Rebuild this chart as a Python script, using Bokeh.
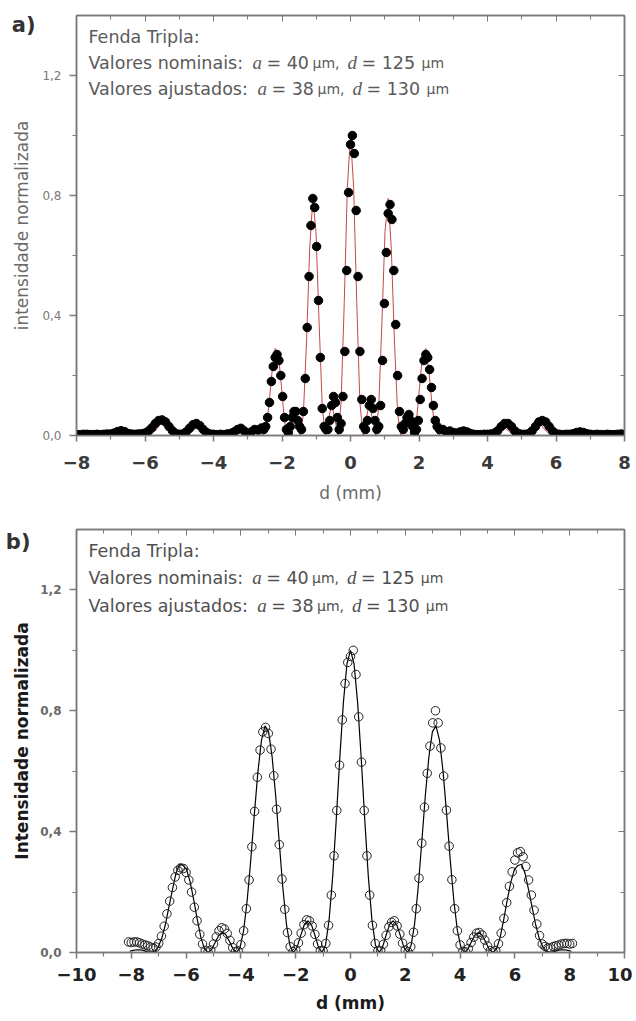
from bokeh.plotting import figure
from bokeh.models import LinearAxis, FixedTicker, CustomJSTickFormatter, Label, Range1d
from bokeh.layouts import column
from bokeh.embed import file_html
from bokeh.resources import INLINE

# ---------------- Panel a data ----------------
FIT_A_X = [-8.0, -7.883, -7.7, -7.517, -7.333, -7.15, -6.967, -6.783, -6.6, -6.417, -6.233, -6.05, -5.867,
           -5.683, -5.5, -5.317, -5.133, -4.95, -4.767, -4.583, -4.4, -4.217, -4.033, -3.85, -3.667, -3.483,
           -3.3, -3.208, -3.117, -3.025, -2.933, -2.842, -2.75, -2.658, -2.567, -2.475, -2.383, -2.292, -2.2,
           -2.108, -2.017, -1.925, -1.833, -1.742, -1.65, -1.558, -1.467, -1.375, -1.283, -1.192, -1.1, -1.008,
           -0.917, -0.825, -0.733, -0.642, -0.55, -0.458, -0.367, -0.275, -0.183, -0.092, 0.0,
           0.092, 0.183, 0.275, 0.367, 0.458, 0.55, 0.642, 0.733, 0.825, 0.917, 1.008, 1.1, 1.192, 1.283,
           1.375, 1.467, 1.558, 1.65, 1.742, 1.833, 1.925, 2.017, 2.108, 2.2, 2.292, 2.383, 2.475, 2.567,
           2.658, 2.75, 2.842, 2.933, 3.025, 3.117, 3.208, 3.3,
           3.483, 3.667, 3.85, 4.033, 4.217, 4.4, 4.583, 4.767, 4.95, 5.133, 5.317, 5.5, 5.683, 5.867, 6.05,
           6.233, 6.417, 6.6, 6.783, 6.967, 7.15, 7.333, 7.517, 7.7, 7.883, 8.0]
FIT_A_Y = [0.0, 0.001, 0.003, 0.001, 0.0, 0.0, 0.0, 0.004, 0.012, 0.006, 0.0, 0.003, 0.0,
           0.018, 0.045, 0.021, 0.0, 0.005, 0.0, 0.018, 0.035, 0.011, 0.0, 0.001, 0.0, 0.004,
           0.018, 0.018, 0.013, 0.005, 0.0, 0.005, 0.011, 0.008, 0.0, 0.021, 0.098, 0.211, 0.29,
           0.274, 0.164, 0.046, 0.0, 0.029, 0.06, 0.035, 0.0, 0.074, 0.315, 0.622, 0.79, 0.68,
           0.377, 0.097, 0.0, 0.055, 0.104, 0.057, 0.0, 0.109, 0.44, 0.827, 1.0,
           0.827, 0.44, 0.109, 0.0, 0.057, 0.104, 0.055, 0.0, 0.097, 0.377, 0.68, 0.79, 0.622, 0.315,
           0.074, 0.0, 0.035, 0.06, 0.029, 0.0, 0.046, 0.164, 0.274, 0.29, 0.211, 0.098, 0.021, 0.0,
           0.008, 0.011, 0.005, 0.0, 0.005, 0.013, 0.018, 0.018,
           0.004, 0.0, 0.001, 0.0, 0.011, 0.035, 0.018, 0.0, 0.005, 0.0, 0.021, 0.045, 0.018, 0.0, 0.003,
           0.0, 0.006, 0.012, 0.004, 0.0, 0.0, 0.0, 0.001, 0.003, 0.001, 0.0]

DATA_A_X = [-8.0, -7.9, -7.8, -7.7, -7.6, -7.5, -7.4, -7.3, -7.2, -7.1, -7.0, -6.9, -6.8, -6.7, -6.6,
            -6.5, -6.4, -6.3, -6.2, -6.1, -6.0, -5.9, -5.8, -5.7, -5.6, -5.5, -5.4, -5.3, -5.2, -5.1,
            -5.0, -4.9, -4.8, -4.7, -4.6, -4.5, -4.4, -4.3, -4.2, -4.1, -4.0, -3.9, -3.8, -3.7, -3.6,
            -3.5, -3.4, -3.3, -3.2, -3.1, -3.0, -2.9, -2.8, -2.7, -2.6,
            -2.53, -2.475, -2.42, -2.365, -2.31, -2.255, -2.2, -2.145, -2.09, -2.035, -1.98, -1.925,
            -1.87, -1.815, -1.76, -1.705, -1.65, -1.595, -1.54, -1.485, -1.43, -1.375, -1.32, -1.265,
            -1.21, -1.155, -1.1, -1.045, -0.99, -0.935, -0.88, -0.825, -0.77, -0.715, -0.66, -0.605,
            -0.55, -0.495, -0.44, -0.385, -0.33, -0.275, -0.22, -0.165, -0.11, -0.055, 0.0,
            0.055, 0.11, 0.165, 0.22, 0.275, 0.33, 0.385, 0.44, 0.495, 0.55, 0.605, 0.66, 0.715, 0.77,
            0.825, 0.88, 0.935, 0.99, 1.045, 1.1, 1.155, 1.21, 1.265, 1.32, 1.375, 1.43, 1.485, 1.54,
            1.595, 1.65, 1.705, 1.76, 1.815, 1.87, 1.925, 1.98, 2.035, 2.09, 2.145, 2.2, 2.255, 2.31,
            2.365, 2.42, 2.475, 2.53,
            2.6, 2.7, 2.8, 2.9, 3.0, 3.1, 3.2, 3.3, 3.4, 3.5, 3.6, 3.7, 3.8, 3.9, 4.0, 4.1, 4.2, 4.3,
            4.4, 4.5, 4.6, 4.7, 4.8, 4.9, 5.0, 5.1, 5.2, 5.3, 5.4, 5.5, 5.6, 5.7, 5.8, 5.9, 6.0, 6.1,
            6.2, 6.3, 6.4, 6.5, 6.6, 6.7, 6.8, 6.9, 7.0, 7.1, 7.2, 7.3, 7.4, 7.5, 7.6, 7.7, 7.8, 7.9, 8.0]
DATA_A_Y = [0.003, 0.003, 0.004, 0.004, 0.003, 0.003, 0.004, 0.003, 0.004, 0.005, 0.005, 0.008, 0.013,
            0.016, 0.013, 0.007, 0.005, 0.004, 0.005, 0.006, 0.008, 0.015, 0.026, 0.04, 0.05, 0.052,
            0.045, 0.03, 0.016, 0.007, 0.004, 0.005, 0.012, 0.024, 0.036, 0.04, 0.033, 0.02, 0.01,
            0.005, 0.004, 0.003, 0.004, 0.003, 0.005, 0.007, 0.012, 0.02, 0.024, 0.015, 0.005, 0.012,
            0.02, 0.018, 0.025,
            0.02, 0.03, 0.06, 0.11, 0.18, 0.23, 0.26, 0.27, 0.25, 0.2, 0.13, 0.06, 0.02, 0.01, 0.03,
            0.06, 0.08, 0.08, 0.05, 0.03, 0.02, 0.08, 0.19, 0.36, 0.53, 0.7, 0.79, 0.76, 0.63, 0.45,
            0.26, 0.09, 0.03, 0.02, 0.02, 0.05, 0.1, 0.13, 0.11, 0.06, 0.02, 0.04, 0.13, 0.28, 0.55,
            0.81, 0.97, 1.0,
            0.94, 0.75, 0.53, 0.28, 0.12, 0.03, 0.02, 0.05, 0.1, 0.12, 0.09, 0.05, 0.02, 0.03, 0.1,
            0.25, 0.44, 0.61, 0.74, 0.77, 0.72, 0.55, 0.37, 0.2, 0.08, 0.03, 0.02, 0.04, 0.06, 0.07,
            0.05, 0.03, 0.01, 0.02, 0.05, 0.12, 0.19, 0.25, 0.27, 0.26, 0.22, 0.16, 0.1, 0.05, 0.03,
            0.02,
            0.02, 0.012, 0.015, 0.01, 0.008, 0.012, 0.015, 0.012, 0.007, 0.004, 0.003, 0.003, 0.004,
            0.004, 0.005, 0.008, 0.016, 0.03, 0.04, 0.04, 0.03, 0.015, 0.007, 0.004, 0.004, 0.006,
            0.015, 0.03, 0.045, 0.05, 0.045, 0.03, 0.015, 0.006, 0.004, 0.003, 0.004, 0.004, 0.006,
            0.01, 0.012, 0.01, 0.006, 0.004, 0.003, 0.004, 0.003, 0.003, 0.004, 0.003, 0.003, 0.004,
            0.005, 0.004, 0.005]

# ---------------- Panel b data ----------------
FIT_B_X = [-8.06, -7.93, -7.8, -7.67, -7.54, -7.41, -7.28, -7.15, -7.02, -6.89, -6.76, -6.63, -6.5,
           -6.37, -6.24, -6.11, -5.98, -5.85, -5.72, -5.59, -5.46, -5.33, -5.2, -5.07, -4.94, -4.81,
           -4.68, -4.55, -4.42, -4.29, -4.16, -4.03, -3.9, -3.77, -3.64, -3.51, -3.38, -3.25, -3.12,
           -2.99, -2.86, -2.73, -2.6, -2.47, -2.34, -2.21, -2.08, -1.95, -1.82, -1.69, -1.56, -1.43,
           -1.3, -1.17, -1.04, -0.91, -0.78, -0.65, -0.52, -0.39, -0.26, -0.13, 0.0,
           0.13, 0.26, 0.39, 0.52, 0.65, 0.78, 0.91, 1.04, 1.17, 1.3, 1.43, 1.56, 1.69, 1.82, 1.95,
           2.08, 2.21, 2.34, 2.47, 2.6, 2.73, 2.86, 2.99, 3.12, 3.25, 3.38, 3.51, 3.64, 3.77, 3.9,
           4.03, 4.16, 4.29, 4.42, 4.55, 4.68, 4.81, 4.94, 5.07, 5.2, 5.33, 5.46, 5.59, 5.72, 5.85,
           5.98, 6.11, 6.24, 6.37, 6.5, 6.63, 6.76, 6.89, 7.02, 7.15, 7.28, 7.41, 7.54, 7.67, 7.8,
           7.93, 8.06]
FIT_B_Y = [0.004, 0.007, 0.009, 0.009, 0.006, 0.002, 0.0, 0.004, 0.018, 0.046, 0.091, 0.149, 0.207,
           0.262, 0.292, 0.288, 0.274, 0.233, 0.173, 0.108, 0.05, 0.012, 0.0, 0.01, 0.033, 0.056,
           0.067, 0.059, 0.037, 0.012, 0.0, 0.017, 0.073, 0.173, 0.306, 0.457, 0.597, 0.702, 0.75,
           0.731, 0.647, 0.518, 0.364, 0.215, 0.095, 0.023, 0.0, 0.017, 0.056, 0.091, 0.105, 0.093,
           0.058, 0.018, 0.0, 0.025, 0.109, 0.252, 0.44, 0.645, 0.827, 0.955, 1.0,
           0.955, 0.827, 0.645, 0.44, 0.252, 0.109, 0.025, 0.0, 0.018, 0.058, 0.093, 0.105, 0.091,
           0.056, 0.017, 0.0, 0.023, 0.095, 0.215, 0.364, 0.518, 0.647, 0.731, 0.75, 0.702, 0.597,
           0.457, 0.306, 0.173, 0.073, 0.017, 0.0, 0.012, 0.037, 0.059, 0.067, 0.056, 0.033, 0.01,
           0.0, 0.012, 0.05, 0.108, 0.173, 0.233, 0.274, 0.288, 0.292, 0.262, 0.207, 0.149, 0.091,
           0.046, 0.018, 0.004, 0.0, 0.002, 0.006, 0.009, 0.009, 0.007, 0.004]

DATA_B_X = [-8.1, -8.0, -7.9, -7.8, -7.7, -7.6, -7.5, -7.4, -7.3, -7.2, -7.1, -7.0, -6.9, -6.8, -6.7,
            -6.6, -6.5, -6.4, -6.3, -6.2, -6.1, -6.0, -5.9, -5.8, -5.7, -5.6, -5.5, -5.4, -5.3, -5.2,
            -5.1, -5.0, -4.9, -4.8, -4.7, -4.6, -4.5, -4.4, -4.3, -4.2, -4.1, -4.0, -3.9, -3.8, -3.7,
            -3.6, -3.5, -3.4, -3.3, -3.2, -3.1, -3.0, -2.9, -2.8, -2.7, -2.6, -2.5, -2.4, -2.3, -2.2,
            -2.1, -2.0, -1.9, -1.8, -1.7, -1.6, -1.5, -1.4, -1.3, -1.2, -1.1, -1.0, -0.9, -0.8, -0.7,
            -0.6, -0.5, -0.4, -0.3, -0.2, -0.1, 0.0,
            0.1, 0.2, 0.3, 0.4, 0.5, 0.6, 0.7, 0.8, 0.9, 1.0, 1.1, 1.2, 1.3, 1.4, 1.5, 1.6, 1.7, 1.8,
            1.9, 2.0, 2.1, 2.2, 2.3, 2.4, 2.5, 2.6, 2.7, 2.8, 2.9, 3.0, 3.1, 3.2, 3.3, 3.4, 3.5, 3.6,
            3.7, 3.8, 3.9, 4.0, 4.1, 4.2, 4.3, 4.4, 4.5, 4.6, 4.7, 4.8, 4.9, 5.0, 5.1, 5.2, 5.3, 5.4,
            5.5, 5.6, 5.7, 5.8, 5.9, 6.0, 6.1, 6.2, 6.3, 6.4, 6.5, 6.6, 6.7, 6.8, 6.9, 7.0, 7.1, 7.2,
            7.3, 7.4, 7.5, 7.6, 7.7, 7.8, 7.9, 8.0, 8.1]
DATA_B_Y = [0.035, 0.033, 0.035, 0.035, 0.032, 0.028, 0.025, 0.022, 0.018, 0.015, 0.018, 0.03, 0.054,
            0.087, 0.128, 0.17, 0.215, 0.25, 0.272, 0.28, 0.278, 0.265, 0.24, 0.2, 0.15, 0.105, 0.06,
            0.028, 0.007, 0.002, 0.008, 0.028, 0.052, 0.072, 0.082, 0.078, 0.063, 0.04, 0.016, 0.003,
            0.005, 0.026, 0.072, 0.145, 0.24, 0.35, 0.467, 0.58, 0.67, 0.73, 0.745, 0.725, 0.673,
            0.585, 0.474, 0.357, 0.243, 0.143, 0.066, 0.019, 0.003, 0.009, 0.032, 0.064, 0.092, 0.108,
            0.105, 0.088, 0.06, 0.028, 0.006, 0.005, 0.03, 0.09, 0.19, 0.32, 0.47, 0.62, 0.77, 0.89,
            0.96, 0.98,
            1.0, 0.92, 0.78, 0.63, 0.47, 0.32, 0.19, 0.09, 0.03, 0.005, 0.006, 0.027, 0.057, 0.085,
            0.1, 0.105, 0.088, 0.061, 0.031, 0.008, 0.002, 0.019, 0.067, 0.145, 0.246, 0.362, 0.481,
            0.593, 0.683, 0.76, 0.8, 0.76, 0.677, 0.584, 0.471, 0.352, 0.241, 0.145, 0.072, 0.025,
            0.004, 0.002, 0.013, 0.033, 0.051, 0.064, 0.066, 0.058, 0.041, 0.022, 0.006, 0.002, 0.007,
            0.029, 0.064, 0.113, 0.165, 0.219, 0.267, 0.306, 0.33, 0.334, 0.317, 0.285, 0.24, 0.19,
            0.14, 0.094, 0.056, 0.028, 0.02, 0.015, 0.015, 0.02, 0.022, 0.025, 0.028, 0.03, 0.03,
            0.028, 0.03]

Y_MAJOR = [0, 0.4, 0.8, 1.2]
Y_MINOR = [0.2, 0.6, 1.0]
XA_MAJOR = [-8, -6, -4, -2, 0, 2, 4, 6, 8]
XA_MINOR = [-7, -5, -3, -1, 1, 3, 5, 7]
XB_MAJOR = [-10, -8, -6, -4, -2, 0, 2, 4, 6, 8, 10]
XB_MINOR = [-9, -7, -5, -3, -1, 1, 3, 5, 7, 9]

GRAY = "#7a7a7a"
SANS = "DejaVu Sans"
SERIF = "Liberation Serif"


def make_panel(xr, xmaj, xmin, height, top, bottom, xlabel, ylabel, bold,
               xtick_col, ytick_col, lab_col, xlab_standoff, xlabel_standoff, ylabel_standoff,
               tag, tag_y, tag_standoff):
    p = figure(width=632, height=height, x_range=Range1d(*xr), y_range=Range1d(0, 1.4),
               output_backend="svg", toolbar_location=None,
               min_border_left=76, min_border_right=8, min_border_top=top, min_border_bottom=bottom)
    p.grid.visible = False
    p.outline_line_color = GRAY
    p.outline_line_width = 1.5
    p.background_fill_color = "white"
    p.border_fill_color = "white"

    xa = p.xaxis[0]
    xa.ticker = FixedTicker(ticks=xmaj, minor_ticks=xmin)
    xa.axis_line_color = GRAY
    xa.axis_line_width = 1.5
    xa.major_tick_line_color = GRAY
    xa.minor_tick_line_color = GRAY
    xa.major_tick_line_width = 1.5
    xa.minor_tick_line_width = 1.2
    xa.major_tick_out = 6
    xa.major_tick_in = 0
    xa.minor_tick_out = 4
    xa.minor_tick_in = 0
    xa.major_label_text_font = SANS
    xa.major_label_text_font_size = "18px"
    xa.major_label_text_font_style = "bold"
    xa.major_label_text_color = xtick_col
    xa.major_label_standoff = xlab_standoff
    xa.axis_label = xlabel
    xa.axis_label_text_font = SANS
    xa.axis_label_text_font_size = "17px"
    xa.axis_label_text_font_style = "bold" if bold else "normal"
    xa.axis_label_text_color = lab_col
    xa.axis_label_standoff = xlabel_standoff

    ya = p.yaxis[0]
    ya.ticker = FixedTicker(ticks=Y_MAJOR, minor_ticks=Y_MINOR)
    ya.formatter = CustomJSTickFormatter(code="return tick.toFixed(1).replace('.', ',');")
    ya.axis_line_color = GRAY
    ya.axis_line_width = 1.5
    ya.major_tick_line_color = GRAY
    ya.minor_tick_line_color = GRAY
    ya.major_tick_line_width = 1.5
    ya.minor_tick_line_width = 1.2
    ya.major_tick_out = 7
    ya.major_tick_in = 0
    ya.minor_tick_out = 4
    ya.minor_tick_in = 0
    ya.major_label_text_font = SANS
    ya.major_label_text_font_size = "12px"
    ya.major_label_text_font_style = "bold" if bold else "normal"
    ya.major_label_text_color = ytick_col
    ya.major_label_standoff = 8
    ya.axis_label = ylabel
    ya.axis_label_text_font = SANS
    ya.axis_label_text_font_size = "17px"
    ya.axis_label_text_font_style = "bold" if bold else "normal"
    ya.axis_label_text_color = lab_col
    ya.axis_label_standoff = ylabel_standoff

    for loc, tk in (("above", FixedTicker(ticks=xmaj, minor_ticks=xmin)),
                    ("right", FixedTicker(ticks=Y_MAJOR, minor_ticks=Y_MINOR))):
        ax = LinearAxis(ticker=tk, formatter=CustomJSTickFormatter(code="return '';"))
        ax.axis_line_color = GRAY
        ax.axis_line_width = 1.5
        ax.major_tick_line_color = GRAY
        ax.minor_tick_line_color = GRAY
        ax.major_tick_in = 6
        ax.major_tick_out = 0
        ax.minor_tick_in = 4
        ax.minor_tick_out = 0
        ax.major_label_standoff = 0
        ax.major_label_text_font_size = "1px"
        p.add_layout(ax, loc)

    # panel tag ("a)" / "b)") drawn as the single label of an extra, line-less left axis
    tag_axis = LinearAxis(ticker=FixedTicker(ticks=[tag_y], minor_ticks=[]),
                          formatter=CustomJSTickFormatter(code="return '%s';" % tag))
    tag_axis.axis_line_color = None
    tag_axis.major_tick_line_color = None
    tag_axis.minor_tick_line_color = None
    tag_axis.major_tick_in = 0
    tag_axis.major_tick_out = 0
    tag_axis.minor_tick_in = 0
    tag_axis.minor_tick_out = 0
    tag_axis.major_label_standoff = tag_standoff
    tag_axis.major_label_text_font = SANS
    tag_axis.major_label_text_font_size = "21px"
    tag_axis.major_label_text_font_style = "bold"
    tag_axis.major_label_text_color = "#333333"
    p.add_layout(tag_axis, "left")
    return p


def add_texts(p, tx, ty, col, baselines):
    lines = [
        [("Fenda Tripla:", 88, SANS, "17.5px", "normal")],
        [("Valores nominais:", 88, SANS, "17.5px", "normal"), ("a", 252, SERIF, "19px", "italic"),
         ("= 40", 266, SANS, "17.5px", "normal"), ("\u03bcm,", 312, SANS, "14px", "normal"),
         ("d", 347, SERIF, "19px", "italic"), ("= 125", 361, SANS, "17.5px", "normal"),
         ("\u03bcm", 421, SANS, "14px", "normal")],
        [("Valores ajustados:", 88, SANS, "17.5px", "normal"), ("a", 257, SERIF, "19px", "italic"),
         ("= 38", 271, SANS, "17.5px", "normal"), ("\u03bcm,", 317, SANS, "14px", "normal"),
         ("d", 352, SERIF, "19px", "italic"), ("= 130", 366, SANS, "17.5px", "normal"),
         ("\u03bcm", 426, SANS, "14px", "normal")],
    ]
    for segs, base in zip(lines, baselines):
        for text, px, font, size, style in segs:
            p.add_layout(Label(x=tx(px), y=ty(base), text=text, text_font=font,
                               text_font_size=size, text_font_style=style, text_color=col,
                               text_baseline="alphabetic", text_align="left"))


# ---------------- Panel a ----------------
pa = make_panel((-8, 8), XA_MAJOR, XA_MINOR, 507, 15, 72, "d (mm)", "intensidade normalizada", False,
                "#3a3a3a", "#7a7a7a", "#6a6a6a", 14, 11, 7, "a)", 1.37, -26)
pa.line(FIT_A_X, FIT_A_Y, line_color="#c24a4a", line_width=1)
pa.scatter(DATA_A_X, DATA_A_Y, marker="circle", size=8.5, fill_color="black", line_color="black")
add_texts(pa, lambda px: -8 + (px - 76) / 34.25, lambda py: (435 - py) / 300.0, "#5a5a5a",
          [36, 62, 88])

# ---------------- Panel b ----------------
pb = make_panel((-10, 10), XB_MAJOR, XB_MINOR, 510, 22, 65, "d (mm)", "Intensidade normalizada", True,
                "#222222", "#6a6a6a", "#1a1a1a", 9, 9, 5, "b)", 1.36, -21)
pb.line(FIT_B_X, FIT_B_Y, line_color="black", line_width=1.2)
pb.scatter(DATA_B_X, DATA_B_Y, marker="circle", size=8.5, fill_color=None, line_color="#222222",
           line_width=1)
add_texts(pb, lambda px: -10 + (px - 76) / 27.45, lambda py: (952 - py) / 304.0, "#505050",
          [548, 575, 603])

layout = column(pa, pb)
open("out.html", "w").write(file_html(layout, INLINE))
